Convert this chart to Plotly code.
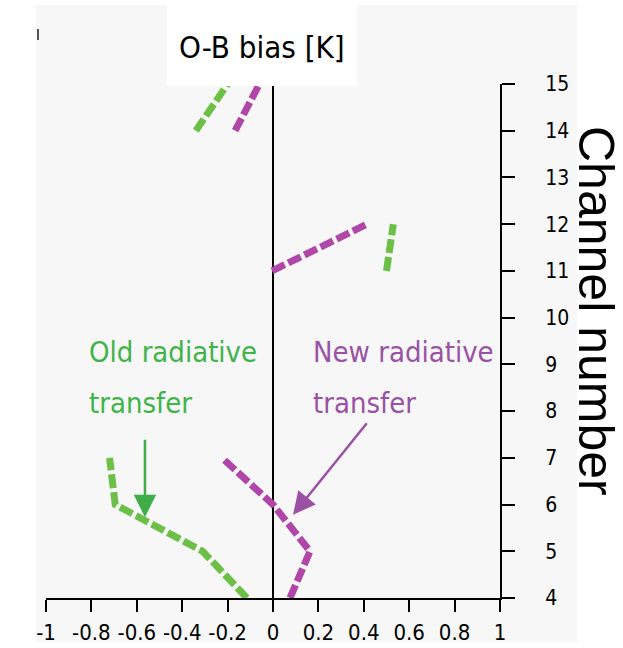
import plotly.graph_objects as go

# O-B bias per channel for the two radiative transfer versions
channels = [4, 5, 6, 7, None, 11, 12, None, 14, 15]
old_rt_bias = [-0.115, -0.31, -0.695, -0.72, None, 0.50, 0.53, None, -0.34, -0.20]
new_rt_bias = [0.075, 0.163, 0.0, -0.225, None, -0.004, 0.414, None, -0.167, -0.06]

x_tick_vals = [-1, -0.8, -0.6, -0.4, -0.2, 0, 0.2, 0.4, 0.6, 0.8, 1]
x_tick_text = ["-1", "-0.8", "-0.6", "-0.4", "-0.2", "0", "0.2", "0.4", "0.6", "0.8", "1"]
y_tick_vals = list(range(4, 16))
y_tick_text = [str(v) for v in y_tick_vals]

W, H = 623, 648
NARROW = "DejaVu Sans Condensed, Liberation Sans Narrow, Roboto, sans-serif"
GREEN_LINE = "#6cbf47"
MAGENTA_LINE = "#b047a8"
GREEN_TEXT = "#41b34b"
PURPLE_TEXT = "#9a52a4"


def fx(px):
    return px / W


def fy(py):
    return 1 - py / H


fig = go.Figure()

fig.add_trace(go.Scatter(
    x=old_rt_bias, y=channels, mode="lines", name="Old radiative transfer",
    line=dict(color=GREEN_LINE, width=7, dash="14px,4px"),
    connectgaps=False, showlegend=False,
))
fig.add_trace(go.Scatter(
    x=new_rt_bias, y=channels, mode="lines", name="New radiative transfer",
    line=dict(color=MAGENTA_LINE, width=7, dash="14px,4px"),
    connectgaps=False, showlegend=False,
))

shapes = [
    # light panel behind the chart
    dict(type="rect", xref="paper", yref="paper",
         x0=fx(36), x1=fx(577), y0=fy(642), y1=fy(5),
         fillcolor="#f6f7f6", line=dict(width=0), layer="below"),
    dict(type="line", xref="paper", yref="paper",
         x0=fx(38), x1=fx(38), y0=fy(29), y1=fy(40),
         line=dict(color="#555555", width=2), layer="below"),
    # zero bias line
    dict(type="line", xref="x", yref="y", x0=0, x1=0, y0=4, y1=15,
         line=dict(color="black", width=2), layer="below"),
    # white box holding the title
    dict(type="rect", xref="paper", yref="paper",
         x0=fx(167), x1=fx(357), y0=fy(86), y1=fy(5),
         fillcolor="white", line=dict(width=0), layer="above"),
]

annotations = [
    dict(text="O-B bias [K]", xref="paper", yref="paper", x=fx(262), y=fy(47),
         xanchor="center", yanchor="middle", showarrow=False,
         font=dict(family=NARROW, size=31, color="black")),
    dict(text="Channel number", xref="paper", yref="paper", x=fx(596), y=fy(311),
         xanchor="center", yanchor="middle", showarrow=False, textangle=90,
         font=dict(family="Liberation Sans, Arial, sans-serif", size=50, color="black")),
    dict(text="Old radiative", xref="paper", yref="paper", x=fx(87), y=fy(352),
         xanchor="left", yanchor="middle", showarrow=False,
         font=dict(family=NARROW, size=29, color=GREEN_TEXT)),
    dict(text="transfer", xref="paper", yref="paper", x=fx(87), y=fy(403),
         xanchor="left", yanchor="middle", showarrow=False,
         font=dict(family=NARROW, size=29, color=GREEN_TEXT)),
    dict(text="New radiative", xref="paper", yref="paper", x=fx(311), y=fy(352),
         xanchor="left", yanchor="middle", showarrow=False,
         font=dict(family=NARROW, size=29, color=PURPLE_TEXT)),
    dict(text="transfer", xref="paper", yref="paper", x=fx(311), y=fy(403),
         xanchor="left", yanchor="middle", showarrow=False,
         font=dict(family=NARROW, size=29, color=PURPLE_TEXT)),
    # arrows pointing at the curves
    dict(text="", xref="x", yref="y", x=-0.564, y=5.73, ax=0, ay=-79,
         showarrow=True, arrowhead=2, arrowsize=1.8, arrowwidth=2.5,
         arrowcolor="#3fae49", standoff=0),
    dict(text="", xref="x", yref="y", x=0.088, y=5.78, ax=75, ay=-93,
         showarrow=True, arrowhead=2, arrowsize=1.8, arrowwidth=2.5,
         arrowcolor="#9b52a5", standoff=0),
]

fig.update_layout(
    width=W, height=H,
    margin=dict(l=0, r=0, t=0, b=0),
    paper_bgcolor="white",
    plot_bgcolor="rgba(0,0,0,0)",
    shapes=shapes,
    annotations=annotations,
    xaxis=dict(
        domain=[fx(46), fx(500)], range=[-1, 1],
        tickvals=x_tick_vals, ticktext=x_tick_text,
        ticks="outside", ticklen=12, tickwidth=2, tickcolor="black",
        showline=True, linecolor="black", linewidth=2,
        showgrid=False, zeroline=False, automargin=False,
        tickfont=dict(family=NARROW, size=22, color="black"),
        ticklabelstandoff=2,
    ),
    yaxis=dict(
        domain=[fy(598), fy(84)], range=[4, 15], side="right",
        tickvals=y_tick_vals, ticktext=y_tick_text,
        ticks="outside", ticklen=13, tickwidth=2, tickcolor="black",
        showline=True, linecolor="black", linewidth=2,
        showgrid=False, zeroline=False, automargin=False,
        tickfont=dict(family=NARROW, size=21, color="black"),
        ticklabelstandoff=26,
    ),
)

fig.write_html("out.html")
